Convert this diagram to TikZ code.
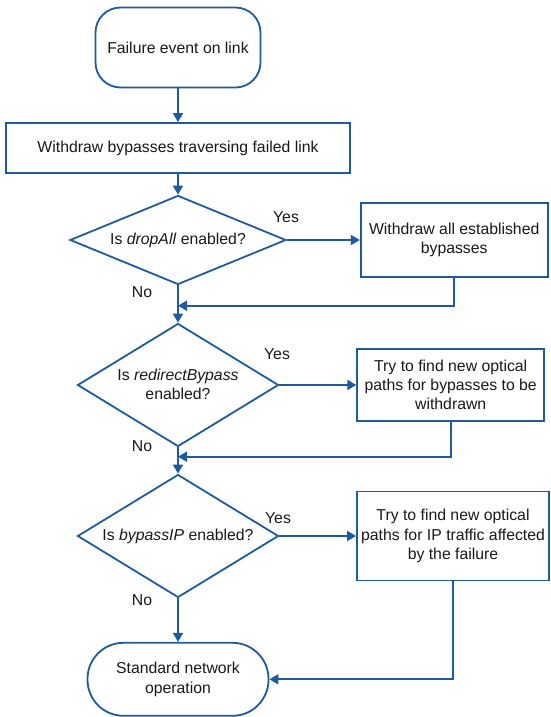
\documentclass[tikz,border=0pt]{standalone}
\usepackage{fontspec}
\setmainfont{Liberation Sans}
\usetikzlibrary{arrows.meta,shapes.geometric}
\definecolor{fcblue}{RGB}{30,90,158}
\definecolor{fctext}{RGB}{25,25,25}
\begin{document}
\begin{tikzpicture}[x=1pt,y=-1pt,
  every node/.style={font=\fontsize{15.8}{19.3}\selectfont, text=fctext},
  boxs/.style={draw=fcblue, line width=1.8pt, inner sep=0pt, align=center},
  term/.style={boxs, rounded corners=25pt},
  dia/.style={draw=fcblue, line width=1.8pt, diamond, inner sep=0pt},
  txt/.style={align=center, inner sep=0pt},
  lbl/.style={inner sep=0pt},
  flow/.style={draw=fcblue, line width=1.8pt, -{Triangle[length=9pt,width=10pt]}}]
\useasboundingbox (0,0) rectangle (550,717);

% main column
\node[term, minimum width=165pt, minimum height=80pt] (start) at (178,47.5) {Failure event on link};
\node[boxs, minimum width=344pt, minimum height=50pt] (b2) at (178,148) {Withdraw bypasses traversing failed link};

\node[dia, minimum width=216pt, minimum height=89pt] (d1) at (178,240) {};
\node[txt] (t1) at (178,240) {Is \textit{dropAll} enabled?};

\node[dia, minimum width=201pt, minimum height=123pt] (d2) at (178,385) {};
\node[txt] (t2) at (178,384) {Is \textit{redirectBypass}\\enabled?};

\node[dia, minimum width=201pt, minimum height=123pt] (d3) at (178,536) {};
\node[txt] (t3) at (178,536) {Is \textit{bypassIP} enabled?};

\node[boxs, rounded corners=36pt, minimum width=181pt, minimum height=73pt] (end) at (178,679.3) {Standard network\\operation};

% right column
\node[boxs, minimum width=187pt, minimum height=73.4pt] (b3) at (454.2,240) {Withdraw all established\\bypasses};
\node[boxs, minimum width=187pt, minimum height=72.4pt] (b4) at (450.7,385) {Try to find new optical\\paths for bypasses to be\\withdrawn};
\node[boxs, minimum width=192pt, minimum height=89pt] (b5) at (453,536) {Try to find new optical\\paths for IP traffic affected\\by the failure};

% merge points
\coordinate (m1) at (178,305.7);
\coordinate (m2) at (178,456.7);

% labels
\node[lbl] (y1) at (286,217) {Yes};
\node[lbl] (y2) at (277,354.3) {Yes};
\node[lbl] (y3) at (278,517.7) {Yes};
\node[lbl] (n1) at (142,291.7) {No};
\node[lbl] (n2) at (142,446) {No};
\node[lbl] (n3) at (142,600) {No};

% connectors
\draw[flow] (start.south) -- (b2.north);
\draw[flow] (b2.south) -- (d1.north);
\draw[flow] (d1.east) -- (b3.west);
\draw[flow] (d1.south) -- (d2.north);
\draw[flow] (b3.south) |- (m1);
\draw[flow] (d2.east) -- (b4.west);
\draw[flow] (d2.south) -- (d3.north);
\draw[flow] (b4.south) |- (m2);
\draw[flow] (d3.east) -- (b5.west);
\draw[flow] (d3.south) -- (end.north);
\draw[flow] (b5.south) |- (end.east);
\end{tikzpicture}
\end{document}
